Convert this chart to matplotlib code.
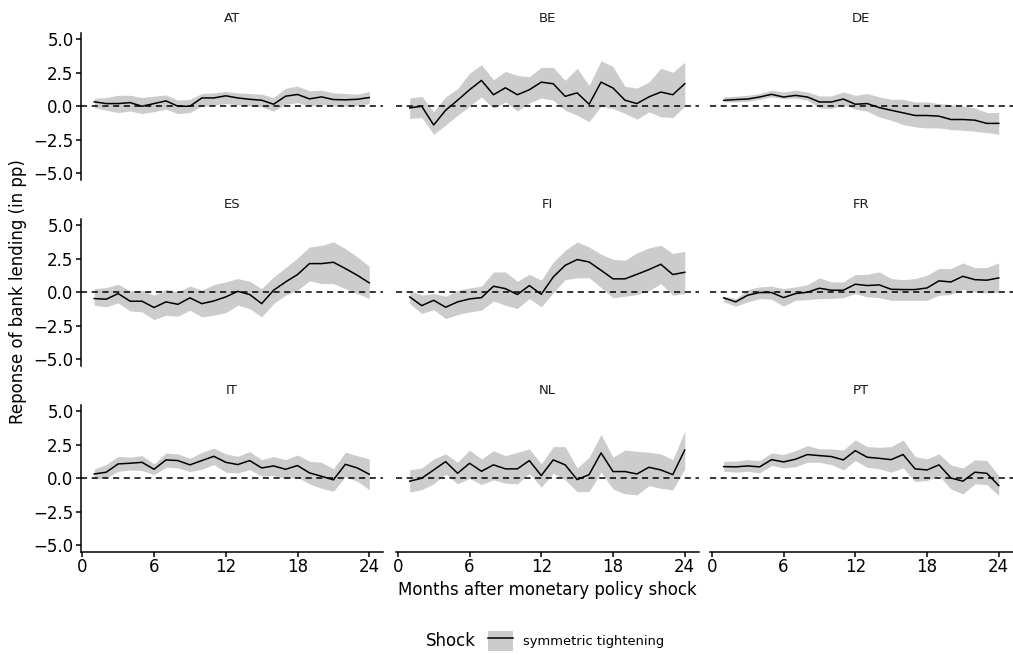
import matplotlib
matplotlib.use("Agg")
import matplotlib.pyplot as plt
from matplotlib.lines import Line2D
from matplotlib.patches import Patch

plt.rcParams["font.family"] = ["DejaVu Sans"]

MONTHS = list(range(1, 25))
COUNTRIES = ["AT", "BE", "DE", "ES", "FI", "FR", "IT", "NL", "PT"]

AT_MID = [0.33, 0.2, 0.2, 0.27, 0.0, 0.2, 0.4, 0.0, 0.0, 0.62, 0.62, 0.78,
          0.62, 0.52, 0.45, 0.15, 0.75, 0.88, 0.55, 0.7, 0.5, 0.48, 0.52, 0.65]
AT_HI = [0.6, 0.65, 0.82, 0.82, 0.65, 0.75, 0.85, 0.45, 0.52, 0.95, 1.0, 1.1,
         1.0, 0.95, 0.9, 0.65, 1.34, 1.5, 1.15, 1.2, 1.0, 0.95, 0.9, 1.1]
AT_LO = [-0.1, -0.3, -0.47, -0.35, -0.55, -0.4, -0.22, -0.55, -0.47, 0.02, 0.07, 0.2,
         0.1, 0.02, -0.05, -0.35, 0.15, 0.27, 0.02, 0.15, 0.02, 0.0, 0.05, 0.2]

BE_MID = [-0.12, 0.0, -1.4, -0.3, 0.45, 1.23, 1.93, 0.86, 1.38, 0.86, 1.23, 1.8,
          1.68, 0.74, 1.0, 0.15, 1.8, 1.36, 0.45, 0.2, 0.7, 1.06, 0.86, 1.68]
BE_HI = [0.62, 0.74, -0.4, 0.7, 1.3, 2.47, 3.1, 1.97, 2.6, 2.3, 2.2, 2.9,
         2.9, 1.93, 2.84, 1.55, 3.4, 2.96, 1.48, 1.36, 1.8, 2.84, 2.54, 3.28]
BE_LO = [-0.91, -0.84, -2.1, -1.4, -0.67, 0.0, 0.7, -0.17, 0.32, -0.35, 0.25, 0.62,
         0.45, -0.3, -0.67, -1.16, 0.0, -0.17, -0.54, -0.96, -0.42, -0.79, -0.84, 0.0]

DE_MID = [0.44, 0.5, 0.54, 0.69, 0.89, 0.69, 0.81, 0.69, 0.32, 0.32, 0.54, 0.15,
          0.2, -0.1, -0.3, -0.49, -0.69, -0.69, -0.74, -0.99, -0.99, -1.04, -1.28, -1.28]
DE_HI = [0.7, 0.75, 0.82, 0.95, 1.2, 1.07, 1.2, 1.07, 0.77, 0.77, 1.07, 0.82,
         0.95, 0.7, 0.52, 0.52, 0.32, 0.32, 0.2, 0.12, 0.02, -0.12, -0.47, -0.47]
DE_LO = [0.32, 0.32, 0.37, 0.52, 0.7, 0.57, 0.62, 0.45, -0.12, -0.17, 0.12, -0.22,
         -0.37, -0.8, -1.04, -1.37, -1.54, -1.62, -1.62, -1.74, -1.79, -1.87, -1.97, -2.09]

ES_MID = [-0.47, -0.52, -0.1, -0.67, -0.67, -1.14, -0.72, -0.9, -0.42, -0.85, -0.65, -0.35,
          0.07, -0.17, -0.85, 0.15, 0.77, 1.32, 2.14, 2.14, 2.24, 1.77, 1.27, 0.7]
ES_HI = [0.27, 0.35, 0.6, 0.1, 0.15, -0.22, 0.22, 0.02, 0.47, 0.15, 0.57, 0.77,
         1.02, 0.82, 0.27, 1.14, 1.84, 2.56, 3.38, 3.5, 3.76, 3.26, 2.64, 1.94]
ES_LO = [-0.97, -1.09, -0.8, -1.39, -1.47, -2.04, -1.72, -1.79, -1.34, -1.84, -1.72, -1.52,
         -0.97, -1.22, -1.84, -0.85, -0.22, 0.15, 0.85, 0.65, 0.65, 0.27, -0.1, -0.47]

FI_MID = [-0.35, -1.0, -0.6, -1.12, -0.72, -0.5, -0.4, 0.45, 0.27, -0.17, 0.5, -0.15,
          1.14, 2.01, 2.44, 2.26, 1.64, 1.0, 1.0, 1.34, 1.69, 2.09, 1.32, 1.49]
FI_HI = [0.15, -0.22, -0.1, -0.3, 0.15, 0.32, 0.45, 1.52, 1.52, 0.82, 1.34, 0.9,
         2.26, 3.13, 3.76, 3.38, 2.84, 2.46, 2.39, 2.94, 3.31, 3.51, 2.89, 3.06]
FI_LO = [-0.85, -1.59, -1.29, -1.97, -1.67, -1.47, -1.34, -0.65, -0.97, -1.22, -0.47, -1.09,
         -0.05, 0.95, 1.07, 1.09, 0.35, -0.42, -0.3, -0.17, 0.1, 0.65, -0.22, -0.1]

FR_MID = [-0.42, -0.72, -0.22, -0.02, -0.02, -0.4, -0.1, 0.0, 0.3, 0.15, 0.15, 0.6,
          0.5, 0.55, 0.22, 0.2, 0.2, 0.32, 0.85, 0.77, 1.19, 0.94, 0.9, 1.07]
FR_HI = [-0.3, -0.47, 0.2, 0.4, 0.45, 0.27, 0.4, 0.57, 1.07, 0.77, 0.77, 1.32,
         1.34, 1.52, 1.02, 0.94, 1.02, 1.27, 1.77, 1.77, 2.19, 1.84, 1.84, 2.19]
FR_LO = [-0.72, -1.04, -0.72, -0.47, -0.52, -1.04, -0.6, -0.55, -0.47, -0.47, -0.4, -0.1,
         -0.35, -0.4, -0.6, -0.6, -0.6, -0.6, -0.22, -0.17, 0.2, 0.02, -0.05, 0.0]

IT_MID = [0.32, 0.45, 1.07, 1.12, 1.19, 0.67, 1.37, 1.32, 1.0, 1.32, 1.64, 1.19,
          1.02, 1.32, 0.77, 0.92, 0.67, 0.95, 0.4, 0.15, -0.12, 1.04, 0.77, 0.3]
IT_HI = [0.7, 1.02, 1.64, 1.57, 1.69, 1.07, 1.89, 1.82, 1.49, 1.94, 2.24, 1.82,
         1.64, 1.99, 1.39, 1.62, 1.39, 1.74, 1.27, 1.19, 0.7, 1.94, 1.69, 1.44]
IT_LO = [-0.05, 0.02, 0.52, 0.62, 0.57, 0.27, 0.82, 0.77, 0.5, 0.67, 1.02, 0.45,
         0.4, 0.65, 0.15, 0.2, -0.05, 0.07, -0.42, -0.75, -0.97, 0.12, -0.22, -0.85]

NL_MID = [-0.22, 0.0, 0.62, 1.24, 0.37, 1.12, 0.52, 1.0, 0.7, 0.7, 1.32, 0.2,
          1.37, 1.0, -0.1, 0.27, 1.89, 0.5, 0.5, 0.32, 0.82, 0.62, 0.27, 2.11]
NL_HI = [0.62, 0.77, 1.44, 1.82, 1.19, 2.11, 1.44, 2.06, 1.69, 1.94, 2.19, 1.07,
         2.36, 2.36, 0.77, 1.57, 3.26, 1.57, 2.11, 2.01, 1.94, 1.82, 1.39, 3.51]
NL_LO = [-1.04, -0.85, -0.42, 0.32, -0.42, 0.0, -0.47, -0.12, -0.37, -0.42, 0.37, -0.67,
         0.37, -0.12, -1.0, -1.0, 0.45, -0.8, -1.17, -1.24, -0.55, -0.75, -0.87, 0.7]

PT_MID = [0.87, 0.85, 0.92, 0.85, 1.39, 1.22, 1.42, 1.77, 1.69, 1.62, 1.37, 2.06,
          1.57, 1.49, 1.39, 1.77, 0.7, 0.62, 1.0, 0.02, -0.22, 0.45, 0.37, -0.55]
PT_HI = [1.27, 1.27, 1.39, 1.32, 1.89, 1.77, 2.06, 2.44, 2.19, 2.19, 2.11, 2.86,
         2.36, 2.31, 2.36, 2.86, 1.62, 1.44, 1.82, 1.0, 0.75, 1.39, 1.32, 0.2]
PT_LO = [0.52, 0.45, 0.52, 0.4, 0.95, 0.77, 0.87, 1.19, 1.19, 1.02, 0.62, 1.32,
         0.82, 0.7, 0.45, 0.77, -0.25, -0.17, 0.2, -0.8, -1.17, -0.42, -0.47, -1.29]

SERIES = {
    "AT": (AT_MID, AT_LO, AT_HI), "BE": (BE_MID, BE_LO, BE_HI), "DE": (DE_MID, DE_LO, DE_HI),
    "ES": (ES_MID, ES_LO, ES_HI), "FI": (FI_MID, FI_LO, FI_HI), "FR": (FR_MID, FR_LO, FR_HI),
    "IT": (IT_MID, IT_LO, IT_HI), "NL": (NL_MID, NL_LO, NL_HI), "PT": (PT_MID, PT_LO, PT_HI),
}

X_TICKS = [0, 6, 12, 18, 24]
Y_TICKS = [-5.0, -2.5, 0.0, 2.5, 5.0]
Y_LABELS = ["\u22125.0", "\u22122.5", "0.0", "2.5", "5.0"]

BAND = "#cccccc"
W, H = 1013, 655

fig = plt.figure(figsize=(W / 100, H / 100), dpi=100)

# panel layout in pixels
col_left = [80.5, 396, 710]
row_top = [33, 219, 405]
pw, ph = 302.5, 146.5

for i, cc in enumerate(COUNTRIES):
    r, c = divmod(i, 3)
    ax = fig.add_axes([col_left[c] / W, (H - row_top[r] - ph) / H, pw / W, ph / H])
    mid, lo, hi = SERIES[cc]
    ax.fill_between(MONTHS, lo, hi, color=BAND, linewidth=0)
    ax.axhline(0, color="black", linestyle=(0, (4, 3)), linewidth=1.1)
    ax.plot(MONTHS, mid, color="black", linewidth=1.1)

    ax.set_xlim(-0.15, 25.15)
    ax.set_ylim(-5.47, 5.47)
    ax.set_title(cc, fontsize=9.5, pad=8, color="#1a1a1a")
    for s in ["top", "right"]:
        ax.spines[s].set_visible(False)
    ax.spines["left"].set_visible(c == 0)
    ax.spines["bottom"].set_visible(r == 2)
    for s in ["left", "bottom"]:
        ax.spines[s].set_linewidth(1.1)

    ax.set_xticks(X_TICKS)
    ax.set_yticks(Y_TICKS)
    ax.set_yticklabels(Y_LABELS)
    ax.tick_params(labelsize=12, length=3.5, width=1.1, colors="black", pad=1.5)
    ax.tick_params(axis="x", bottom=(r == 2), labelbottom=(r == 2))
    ax.tick_params(axis="y", left=(c == 0), labelleft=(c == 0))

fig.text(547 / W, 1 - 590 / H, "Months after monetary policy shock",
         ha="center", va="center", fontsize=12)
fig.text(18 / W, 1 - 292 / H, "Reponse of bank lending (in pp)",
         ha="center", va="center", rotation=90, fontsize=12)

# legend along the bottom
fig.text(451 / W, 1 - 641 / H, "Shock", ha="center", va="center", fontsize=12)
handle = (Patch(facecolor=BAND, edgecolor="none"), Line2D([], [], color="black", linewidth=1.1))
fig.legend(handles=[handle], labels=["symmetric tightening"], loc="center left",
           bbox_to_anchor=(488 / W, 1 - 641 / H), frameon=False, fontsize=9.4,
           handlelength=1.9, handleheight=1.9, handletextpad=0.8, borderaxespad=0,
           borderpad=0)

fig.savefig("out.png", dpi=100)
